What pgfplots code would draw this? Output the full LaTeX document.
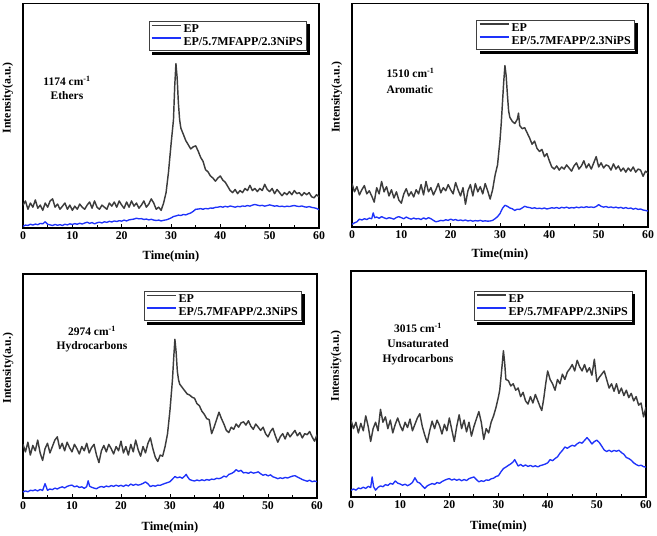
\documentclass[border=0pt]{standalone}
\usepackage{fontspec}
\setmainfont{Liberation Serif}
\usepackage{pgfplots}
\pgfplotsset{compat=1.18}
\definecolor{epgray}{RGB}{60,60,60}
\definecolor{epblue}{RGB}{30,50,250}
\newcommand{\legsh}[2]{%
  \begin{scope}[shift={(#1pt,#2pt)}]
  \fill[black] (0pt,-3pt) rectangle (3pt,-34pt);
  \fill[black] (-155pt,-31pt) rectangle (3pt,-34pt);
  \end{scope}
}
\pgfplotsset{
 panel/.style={
   scale only axis, anchor=south west,
   xmin=0, xmax=60, ymin=0,
   xtick={0,10,...,60}, minor x tick num=1,
   ytick=\empty,
   xtick pos=bottom, tick align=inside,
   major tick length=4pt, minor tick length=2.5pt,
   axis line style={line width=1.2pt},
   every tick/.style={line width=0.9pt, black},
   tick label style={font=\bfseries\fontsize{11.8}{13}\selectfont},
   xticklabel style={yshift=-0.5pt},
   /pgf/number format/assume math mode=true,
   xlabel={Time(min)}, ylabel={Intensity(a.u.)},
   xlabel style={font=\bfseries\fontsize{12.5}{14}\selectfont, at={(axis description cs:0.5,-0.125)}, anchor=center},
   ylabel style={font=\bfseries\fontsize{11.8}{13}\selectfont, at={(axis description cs:-0.051,0.58)}, anchor=center},
   legend cell align=left,
   legend style={draw=black!75, line width=0.6pt, fill=white, font=\bfseries\fontsize{12}{13}\selectfont, inner xsep=2pt, inner ysep=1.5pt, row sep=-1pt, anchor=north east},
   legend image code/.code={\draw[##1, line width=1.8pt] (0pt,4pt) -- (29pt,4pt);},
 },
 ep/.style={draw=epgray, color=epgray, line width=1.45pt, line join=round},
 fr/.style={draw=epblue, color=epblue, line width=1.35pt, line join=round},
}
\begin{document}
\begin{tikzpicture}
\path[use as bounding box] (0pt,0pt) rectangle (657pt,536pt);
% ---------------- Panel 1: 1174 Ethers
\begin{axis}[panel, at={(23pt,308pt)}, width=296pt, height=224.5pt, ymax=107.9,
  legend style={at={(axis description cs:0.9595,0.922)}}]
\addplot[ep] coordinates {(0,11)(0.5,13)(1,9)(1.5,12)(2,10)(2.5,13.5)(3,9.5)(3.5,11)(4,8.5)(4.5,12)(5,10)(5.5,13)(6,14)(6.5,10)(7,11.5)(7.5,9)(8,10.5)(8.5,12)(9,9)(9.5,11)(10,8.5)(10.5,10.5)(11,9)(11.5,11.5)(12,10)(12.5,9)(13,11)(13.5,12.5)(14,9.5)(14.5,13)(15,10)(15.5,9)(16,11)(16.5,10)(17,9)(17.5,12)(18,10.5)(18.5,12.5)(19,10)(19.5,13)(20,11)(20.5,9.5)(21,12.5)(21.5,10)(22,13)(22.5,10.5)(23,12)(23.5,9.5)(24,11)(24.5,13)(25,10)(25.5,11.5)(26,14)(26.5,12)(27,9)(27.5,10)(28,8.5)(28.5,12)(29,17)(29.5,27)(30,40)(30.25,46)(30.5,52)(30.75,68)(31,79)(31.25,72)(31.5,60)(31.75,52)(32,48)(32.5,45)(33,42)(33.5,40)(34,38)(34.5,39)(35,39.5)(35.5,37)(36,34)(36.5,32)(37,28)(37.5,27)(38,25)(38.5,24)(39,22.5)(39.5,24)(40,25)(40.5,23)(41,22)(41.5,20)(42,18)(42.5,17)(43,18.5)(43.5,16.5)(44,18)(44.5,17)(45,19)(45.5,18)(46,20.5)(46.5,18)(47,19)(47.5,17.5)(48,19)(48.5,18)(49,21)(49.5,18.5)(50,17.5)(50.5,19)(51,16.5)(51.5,18.5)(52,17)(52.5,15.5)(53,17)(53.5,16)(54,17.5)(54.5,16)(55,18)(55.5,16.5)(56,17)(56.5,15.5)(57,17)(57.5,16)(58,17)(58.5,15)(59,14.5)(59.5,16)(60,15)};
\addlegendentry{EP}
\addplot[fr] coordinates {(0,0.8)(0.5,1.4)(1,1.2)(1.5,1.8)(2,1.4)(2.5,1.9)(3,1.6)(3.5,2.2)(4,2.0)(4.5,3.0)(5,1.8)(5.5,1.5)(6,1.2)(6.5,1.7)(7,1.3)(7.5,1.6)(8,1.2)(8.5,1.8)(9,1.5)(9.5,2.0)(10,1.7)(10.5,2.1)(11,1.8)(11.5,2.3)(12,1.9)(12.5,2.4)(13,2.8)(13.5,2.2)(14,2.6)(14.5,2.0)(15,2.5)(15.5,2.8)(16,2.4)(16.5,3.0)(17,2.7)(17.5,3.2)(18,2.9)(18.5,3.4)(19,3.1)(19.5,3.5)(20,3.3)(20.5,3.8)(21,3.4)(21.5,3.9)(22,4.1)(22.5,4.3)(23,4.7)(23.5,4.4)(24,4.5)(24.5,4.1)(25,4.3)(25.5,3.9)(26,4.2)(26.5,3.8)(27,3.6)(27.5,3.8)(28,3.4)(28.5,3.7)(29,3.9)(29.5,4.3)(30,4.8)(30.5,5.5)(31,5.8)(31.5,6.2)(32,6.0)(32.5,6.5)(33,6.3)(33.5,6.8)(34,7.2)(34.5,8.0)(35,9.0)(35.5,9.1)(36,9.3)(36.5,9.0)(37,9.4)(37.5,9.2)(38,9.6)(38.5,9.5)(39,9.9)(39.5,10.0)(40,10.3)(40.5,10.0)(41,10.4)(41.5,10.1)(42,10.6)(42.5,10.3)(43,10.0)(43.5,10.4)(44,10.2)(44.5,10.6)(45,10.4)(45.5,10.8)(46,10.5)(46.5,11.0)(47,11.3)(47.5,11.0)(48,10.7)(48.5,10.9)(49,10.5)(49.5,10.8)(50,11.1)(50.5,10.8)(51,10.5)(51.5,10.7)(52,10.3)(52.5,10.5)(53,10.2)(53.5,10.5)(54,10.3)(54.5,10.6)(55,10.8)(55.5,10.5)(56,10.3)(56.5,10.6)(57,10.2)(57.5,10.0)(58,10.3)(58.5,9.9)(59,9.7)(59.5,9.4)(60,8.8)};
\addlegendentry{EP/5.7MFAPP/2.3NiPS}
\end{axis}
\legsh{307}{515}
% ---------------- Panel 2: 1510 Aromatic
\begin{axis}[panel, at={(352pt,309pt)}, width=296pt, height=223.5pt, ymax=108.0,
  legend style={at={(axis description cs:0.956,0.928)}}]
\addplot[ep] coordinates {(0,21)(0.5,17)(1,19.5)(1.5,15.5)(2,18)(2.5,20)(3,16)(3.5,17.5)(4,15)(4.5,12)(5,19)(5.5,16)(6,22)(6.5,17)(7,19.5)(7.5,15)(8,18)(8.5,14)(9,17)(9.5,13)(10,11.5)(10.5,16)(11,18.5)(11.5,15)(12,17)(12.5,14.5)(13,18)(13.5,16)(14,20.5)(14.5,15.5)(15,22)(15.5,17)(16,19)(16.5,15.5)(17,18)(17.5,21)(18,16.5)(18.5,19)(19,17.5)(19.5,20.5)(20,18)(20.5,16)(21,21.5)(21.5,18)(22,15)(22.5,19)(23,11)(23.5,17.5)(24,20.5)(24.5,15)(25,21)(25.5,17)(26,19.5)(26.5,16)(27,21)(27.5,17.5)(28,13.5)(28.5,18)(29,25)(29.5,30)(30,42)(30.25,50)(30.5,60)(30.75,70)(31,78)(31.25,73)(31.5,64)(31.75,56)(32,53)(32.5,51)(33,50)(33.5,52)(33.75,55)(34,49)(34.5,47.5)(35,48)(35.5,45.5)(36,43)(36.5,40)(37,41.5)(37.5,38)(38,36.5)(38.5,37.5)(39,34)(39.5,35.5)(40,32)(40.5,29)(41,28)(41.5,29.5)(42,27.5)(42.5,29)(43,28)(43.5,30)(44,28.5)(44.5,27)(45,29.5)(45.5,31)(46,28)(46.5,29.5)(47,32)(47.5,28.5)(48,30.5)(48.5,28)(49,31)(49.5,34)(50,29)(50.5,31)(51,28.5)(51.5,30)(52,29.5)(52.5,27.5)(53,30.5)(53.5,28)(54,29.5)(54.5,27)(55,28.5)(55.5,26.5)(56,28.5)(56.5,27)(57,29)(57.5,26.5)(58,28)(58.5,27.5)(59,24.5)(59.5,27)(60,26)};
\addlegendentry{EP}
\addplot[fr] coordinates {(0,1.3)(0.5,2)(1,2.5)(1.5,3.8)(2,3.4)(2.5,4)(3,3.6)(3.5,4.3)(4,4.0)(4.3,6.8)(4.6,4.5)(5,4.8)(5.5,4.2)(6,5.0)(6.5,4.4)(7,4.0)(7.5,4.5)(8,4.2)(8.5,3.8)(9,4.6)(9.5,5.0)(10,4.5)(10.5,4.0)(11,4.8)(11.5,4.2)(12,3.8)(12.5,4.3)(13,3.9)(13.5,4.1)(14,3.6)(14.5,4.4)(15,3.8)(15.5,4.5)(16,4.0)(16.5,3.2)(17,2.5)(17.5,2.8)(18,3.2)(18.5,3.0)(19,3.5)(19.5,3.2)(20,3.8)(20.5,3.3)(21,3.6)(21.5,3.1)(22,3.4)(22.5,3.0)(23,3.4)(23.5,2.9)(24,3.2)(24.5,2.8)(25,3.1)(25.5,2.9)(26,3.2)(26.5,2.8)(27,3.0)(27.5,2.8)(28,2.9)(28.5,3.2)(29,4.0)(29.5,5.0)(30,6.5)(30.5,9.0)(31,10.5)(31.5,10.0)(32,9.2)(32.5,8.8)(33,8.0)(33.5,8.6)(34,8.5)(34.5,9.2)(35,10.0)(35.5,9.6)(36,9.4)(36.5,9.0)(37,9.3)(37.5,8.9)(38,9.1)(38.5,8.8)(39,9.2)(39.5,8.7)(40,9.0)(40.5,9.3)(41,9.1)(41.5,9.4)(42,9.0)(42.5,9.5)(43,9.2)(43.5,9.6)(44,9.1)(44.5,9.4)(45,9.2)(45.5,9.6)(46,9.3)(46.5,9.7)(47,9.4)(47.5,9.8)(48,9.5)(48.5,9.7)(49,9.4)(49.5,9.9)(50,10.8)(50.5,10.0)(51,9.6)(51.5,9.9)(52,9.4)(52.5,9.7)(53,9.3)(53.5,9.6)(54,9.2)(54.5,9.5)(55,9.0)(55.5,9.4)(56,8.9)(56.5,9.2)(57,8.6)(57.5,9.0)(58,8.5)(58.5,8.7)(59,8.2)(59.5,8.0)(60,7.7)};
\addlegendentry{EP/5.7MFAPP/2.3NiPS}
\end{axis}
\legsh{635}{516.4}
% ---------------- Panel 3: 2974 Hydrocarbons
\begin{axis}[panel, at={(23pt,38pt)}, width=294pt, height=224pt, ymax=104.4,
  xlabel style={at={(axis description cs:0.5,-0.13)}},
  legend style={at={(axis description cs:0.949,0.924)}}]
\addplot[ep] coordinates {(0,25)(0.5,21.5)(1,26)(1.5,20)(2,24.5)(2.5,22)(3,27)(3.5,21)(4,17.5)(4.5,23)(5,25.5)(5.5,21)(6,24)(6.5,27)(7,28.5)(7.5,23)(8,25.5)(8.5,22)(9,26)(9.5,23.5)(10,21.5)(10.5,25)(11,23)(11.5,20.5)(12,24)(12.5,22)(13,25.5)(13.5,21)(14,23.5)(14.5,25)(15,20)(15.5,16.5)(16,22)(16.5,24.5)(17,21.5)(17.5,25)(18,23)(18.5,20.5)(19,24)(19.5,22)(20,26.5)(20.5,21)(21,24)(21.5,20)(22,25)(22.5,21.5)(23,27)(23.5,22.5)(24,19.5)(24.5,24)(25,21)(25.5,25.5)(26,28)(26.5,23)(27,19)(27.5,17)(28,20)(28.5,19.5)(29,24)(29.5,30)(30,41)(30.25,48)(30.5,55)(30.75,65)(31,74)(31.25,68)(31.5,59)(31.75,55)(32,53)(32.5,51.5)(33,50)(33.5,48.5)(34,48)(34.5,47)(35,46.5)(35.5,44)(36,43)(36.5,40.5)(37,39)(37.5,37)(38,36.5)(38.5,30)(39,33)(39.5,36.5)(40,40)(40.5,37)(41,34.5)(41.5,31.5)(42,30.5)(42.5,33)(43,32)(43.5,34.5)(44,33)(44.5,35)(45,35.5)(45.5,34)(46,36)(46.5,33.5)(47,32)(47.5,34.5)(48,33)(48.5,31.5)(49,33)(49.5,30)(50,28.5)(50.5,31)(51,32.5)(51.5,29)(52,26)(52.5,28.5)(53,30)(53.5,27.5)(54,30.5)(54.5,28.5)(55,30)(55.5,31.5)(56,29)(56.5,30.5)(57,28)(57.5,30)(58,29.5)(58.5,31)(59,28.5)(59.5,26.5)(60,29.5)};
\addlegendentry{EP}
\addplot[fr] coordinates {(0,2.8)(0.5,3.3)(1,2.9)(1.5,3.6)(2,3.4)(2.5,3.8)(3,3.3)(3.5,4.0)(4,3.5)(4.5,6.7)(5,3.6)(5.5,4.2)(6,3.9)(6.5,4.6)(7,4.2)(7.5,4.8)(8,5.2)(8.5,4.7)(9,5.4)(9.5,5.8)(10,6.0)(10.5,5.2)(11,5.6)(11.5,4.9)(12,5.2)(12.5,4.5)(13,5.3)(13.3,8.0)(13.6,5.5)(14,5.0)(14.5,4.6)(15,4.3)(15.5,5.0)(16,5.4)(16.5,5.0)(17,5.6)(17.5,5.2)(18,5.8)(18.5,5.4)(19,6.0)(19.5,5.5)(20,5.9)(20.5,5.4)(21,6.1)(21.5,5.6)(22,6.5)(22.5,5.9)(23,6.4)(23.5,6.0)(24,6.3)(24.5,6.8)(25,7.5)(25.5,6.6)(26,5.3)(26.5,5.8)(27,5.5)(27.5,6.0)(28,5.9)(28.5,6.4)(29,6.8)(29.5,7.2)(30,7.6)(30.5,8.8)(31,10.0)(31.5,9.4)(32,9.8)(32.5,9.2)(33,10.2)(33.3,11.0)(33.6,9.8)(34,8.6)(34.5,8.2)(35,7.9)(35.5,8.4)(36,8.0)(36.5,8.5)(37,8.1)(37.5,8.6)(38,8.3)(38.5,8.8)(39,8.6)(39.5,9.2)(40,9.0)(40.5,9.4)(41,10.2)(41.5,9.8)(42,11.0)(42.5,11.4)(43,12.0)(43.5,13.2)(44,12.4)(44.5,12.9)(45,11.7)(45.5,11.9)(46,11.5)(46.5,12.1)(47,11.6)(47.5,11.8)(48,12.2)(48.5,11.3)(49,10.6)(49.5,11.0)(50,10.3)(50.5,10.8)(51,9.9)(51.5,9.5)(52,9.0)(52.5,9.4)(53,9.1)(53.5,9.6)(54,9.3)(54.5,9.8)(55,10.2)(55.5,10.4)(56,9.8)(56.5,9.2)(57,8.6)(57.5,8.2)(58,7.8)(58.5,8.3)(59,7.6)(59.5,7.9)(60,7.6)};
\addlegendentry{EP/5.7MFAPP/2.3NiPS}
\end{axis}
\legsh{302}{245}
% ---------------- Panel 4: 3015 Unsaturated Hydrocarbons
\begin{axis}[panel, at={(351pt,39pt)}, width=295pt, height=226pt, ymax=105.8,
  xlabel style={at={(axis description cs:0.5,-0.13)}},
  legend style={at={(axis description cs:0.953,0.912)}}]
\addplot[ep] coordinates {(0,36)(0.5,32)(1,35)(1.5,30)(2,34.5)(2.5,31)(3,38)(3.5,33)(4,26)(4.5,32)(5,35)(5.5,31)(6,41)(6.5,35)(7,37.5)(7.5,32)(8,36)(8.5,30)(9,34)(9.5,37)(10,33.5)(10.5,31)(11,35)(11.5,32.5)(12,36.5)(12.5,31)(13,34)(13.5,37)(14,39)(14.5,33)(15,29)(15.5,25.5)(16,31)(16.5,35.5)(17,32)(17.5,36)(18,33.5)(18.5,29.5)(19,34)(19.5,31)(20,37)(20.5,31.5)(21,26)(21.5,33)(22,38.5)(22.5,32)(23,36)(23.5,30.5)(24,35)(24.5,28.5)(25,33)(25.5,36.5)(26,40)(26.5,35)(27,27)(27.5,32)(28,30)(28.5,35)(29,38)(29.5,42)(30,47)(30.25,50)(30.5,56)(30.75,62)(31,68.5)(31.25,63)(31.5,55)(32,54.5)(32.5,52)(33,53)(33.5,50)(34,51)(34.5,47)(35,49)(35.5,45)(36,43.5)(36.5,47)(37,44)(37.5,48)(38,45)(38.5,42)(38.8,40.5)(39.2,46)(39.6,53)(40,59)(40.5,55)(41,53)(41.5,50)(42,55)(42.5,53)(43,57.5)(43.5,55)(44,58.5)(44.5,60)(45,62)(45.5,59)(46,64)(46.5,61)(47,59)(47.5,62)(48,58.5)(48.5,60.5)(49,57)(49.5,64.5)(50,54)(50.5,56)(51,57.5)(51.5,59)(52,55)(52.5,51)(53,53)(53.5,49.5)(54,53)(54.5,48.5)(55,51)(55.5,47.5)(56,50)(56.5,46.5)(57,48.5)(57.5,45)(58,47)(58.5,43)(59,44)(59.5,37.5)(60,42)};
\addlegendentry{EP}
\addplot[fr] coordinates {(0,3.1)(0.5,3.8)(1,3.2)(1.5,4.2)(2,3.9)(2.5,4.6)(3,4.0)(3.5,5.0)(4,4.4)(4.3,9.4)(4.6,4.8)(5,3.2)(5.5,4.5)(6,5.2)(6.5,4.8)(7,5.8)(7.5,5.4)(8,6.4)(8.5,6.0)(9,7.5)(9.5,6.5)(10,6.1)(10.5,5.5)(11,6.0)(11.5,5.3)(12,5.9)(12.5,6.8)(13,9.0)(13.5,7.0)(14,6.5)(14.5,5.2)(15,4.0)(15.5,5.2)(16,5.8)(16.5,6.3)(17,5.9)(17.5,6.8)(18,6.4)(18.5,7.2)(19,7.8)(19.5,8.3)(20,8.6)(20.5,7.9)(21,8.4)(21.5,7.8)(22,8.3)(22.5,7.6)(23,8.2)(23.5,7.7)(24,8.6)(24.5,9.0)(25,9.4)(25.5,8.2)(26,7.1)(26.5,7.6)(27,7.3)(27.5,8.0)(28,7.8)(28.5,8.5)(29,8.8)(29.5,9.6)(30,10.0)(30.5,11.8)(31,13.3)(31.5,14.0)(32,14.8)(32.5,15.5)(33,16.5)(33.3,17.5)(33.6,16.2)(34,14.5)(34.5,15.2)(35,14.4)(35.5,15.0)(36,14.3)(36.5,14.8)(37,14.2)(37.5,14.6)(38,14.1)(38.5,14.7)(39,15.0)(39.5,15.4)(40,16.0)(40.5,17.5)(41,17.0)(41.5,18.0)(42,18.8)(42.5,20.5)(43,21.8)(43.5,23.4)(44,22.8)(44.5,23.6)(45,24.2)(45.5,23.8)(46,24.9)(46.5,25.6)(47,25.2)(47.5,26.5)(48,27.8)(48.5,26.5)(49,24.8)(49.5,26.0)(50,26.6)(50.5,25.5)(51,23.8)(51.5,22.0)(52,21.3)(52.5,21.9)(53,21.2)(53.5,21.8)(54,21.4)(54.5,21.9)(55,20.8)(55.5,20.0)(56,18.5)(56.5,18.0)(57,17.2)(57.5,16.0)(58,15.2)(58.5,14.6)(59,14.9)(59.5,14.2)(60,14.0)};
\addlegendentry{EP/5.7MFAPP/2.3NiPS}
\end{axis}
\legsh{632.1}{245.1}
% ---------------- annotations
\node[font=\bfseries\fontsize{11.5}{14}\selectfont, align=center] at (67pt,448pt) {1174 cm\textsuperscript{-1}\\Ethers};
\node[font=\bfseries\fontsize{11.5}{15.5}\selectfont, align=left, anchor=west] at (383pt,455.5pt) {1510 cm\textsuperscript{-1}\\Aromatic};
\node[font=\bfseries\fontsize{11.5}{14}\selectfont, align=center] at (92pt,197pt) {2974 cm\textsuperscript{-1}\\Hydrocarbons};
\node[font=\bfseries\fontsize{11.5}{15}\selectfont, align=center] at (418pt,192pt) {3015 cm\textsuperscript{-1}\\Unsaturated\\Hydrocarbons};
\end{tikzpicture}
\end{document}
